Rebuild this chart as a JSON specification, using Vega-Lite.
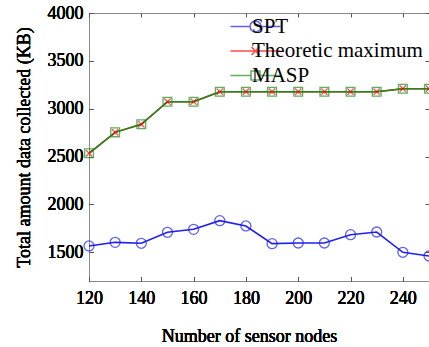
{
  "$schema": "https://vega.github.io/schema/vega-lite/v6.json",
  "width": 340,
  "height": 268,
  "autosize": "none",
  "padding": {"left": 89, "top": 13, "right": 0, "bottom": 66},
  "config": {
    "font": "Liberation Serif",
    "view": {"stroke": "#8a8a8a", "strokeWidth": 1},
    "axis": {
      "grid": false,
      "domain": false,
      "labelFont": "Liberation Serif",
      "labelFontSize": 18,
      "labelColor": "#000000",
      "labelFlush": false,
      "format": "d",
      "titleFont": "Liberation Serif",
      "titleFontSize": 18,
      "titleFontWeight": "normal",
      "titleColor": "#000000",
      "tickColor": "#555555",
      "tickSize": -4,
      "tickWidth": 1
    },
    "legend": {
      "labelFont": "Liberation Serif",
      "labelFontSize": 21,
      "labelColor": "#000000",
      "labelLimit": 400
    }
  },
  "data": {
    "values": [
      {"n": 120, "series": "SPT", "value": 1566},
      {"n": 130, "series": "SPT", "value": 1604},
      {"n": 140, "series": "SPT", "value": 1594},
      {"n": 150, "series": "SPT", "value": 1709},
      {"n": 160, "series": "SPT", "value": 1740},
      {"n": 170, "series": "SPT", "value": 1830},
      {"n": 180, "series": "SPT", "value": 1775},
      {"n": 190, "series": "SPT", "value": 1590},
      {"n": 200, "series": "SPT", "value": 1597},
      {"n": 210, "series": "SPT", "value": 1597},
      {"n": 220, "series": "SPT", "value": 1684},
      {"n": 230, "series": "SPT", "value": 1712},
      {"n": 240, "series": "SPT", "value": 1500},
      {"n": 250, "series": "SPT", "value": 1461},
      {"n": 120, "series": "Theoretic maximum", "value": 2534},
      {"n": 130, "series": "Theoretic maximum", "value": 2753},
      {"n": 140, "series": "Theoretic maximum", "value": 2837},
      {"n": 150, "series": "Theoretic maximum", "value": 3073},
      {"n": 160, "series": "Theoretic maximum", "value": 3073},
      {"n": 170, "series": "Theoretic maximum", "value": 3178},
      {"n": 180, "series": "Theoretic maximum", "value": 3178},
      {"n": 190, "series": "Theoretic maximum", "value": 3178},
      {"n": 200, "series": "Theoretic maximum", "value": 3178},
      {"n": 210, "series": "Theoretic maximum", "value": 3178},
      {"n": 220, "series": "Theoretic maximum", "value": 3178},
      {"n": 230, "series": "Theoretic maximum", "value": 3178},
      {"n": 240, "series": "Theoretic maximum", "value": 3209},
      {"n": 250, "series": "Theoretic maximum", "value": 3209},
      {"n": 120, "series": "MASP", "value": 2534},
      {"n": 130, "series": "MASP", "value": 2753},
      {"n": 140, "series": "MASP", "value": 2837},
      {"n": 150, "series": "MASP", "value": 3073},
      {"n": 160, "series": "MASP", "value": 3073},
      {"n": 170, "series": "MASP", "value": 3178},
      {"n": 180, "series": "MASP", "value": 3178},
      {"n": 190, "series": "MASP", "value": 3178},
      {"n": 200, "series": "MASP", "value": 3178},
      {"n": 210, "series": "MASP", "value": 3178},
      {"n": 220, "series": "MASP", "value": 3178},
      {"n": 230, "series": "MASP", "value": 3178},
      {"n": 240, "series": "MASP", "value": 3209},
      {"n": 250, "series": "MASP", "value": 3209}
    ]
  },
  "encoding": {
    "x": {
      "field": "n",
      "type": "quantitative",
      "scale": {"domain": [120, 250], "nice": false, "zero": false},
      "axis": {
        "orient": "bottom",
        "values": [120, 140, 160, 180, 200, 220, 240],
        "title": "Number of sensor nodes",
        "labelPadding": 12,
        "titlePadding": 20,
        "titleX": 160
      }
    },
    "y": {
      "field": "value",
      "type": "quantitative",
      "scale": {"domain": [1200, 4000], "nice": false, "zero": false},
      "axis": {
        "orient": "left",
        "values": [1500, 2000, 2500, 3000, 3500, 4000],
        "title": "Total amount data collected (KB)",
        "labelPadding": 10,
        "titlePadding": 14
      }
    }
  },
  "layer": [
    {
      "mark": {"type": "line", "strokeWidth": 1.6},
      "encoding": {
        "color": {
          "field": "series",
          "type": "nominal",
          "scale": {
            "domain": ["SPT", "Theoretic maximum", "MASP"],
            "range": ["#1f1ff0", "#ff0000", "#1e8c1e"]
          },
          "legend": {
            "title": null,
            "orient": "none",
            "legendX": 156,
            "legendY": 3,
            "padding": 0,
            "symbolSize": 100,
            "symbolStrokeWidth": 1.6,
            "labelOffset": -14,
            "rowPadding": 2.5
          }
        }
      }
    },
    {
      "transform": [{"filter": "datum.series === 'SPT'"}],
      "mark": {"type": "point", "shape": "circle", "filled": false, "size": 100, "stroke": "#1f1ff0", "strokeWidth": 1.3}
    },
    {
      "transform": [{"filter": "datum.series === 'Theoretic maximum'"}],
      "mark": {"type": "point", "shape": "M-0.65,-0.65L0.65,0.65M-0.65,0.65L0.65,-0.65", "filled": false, "size": 95, "stroke": "#ff0000", "strokeWidth": 1.3}
    },
    {
      "transform": [{"filter": "datum.series === 'MASP'"}],
      "mark": {"type": "point", "shape": "M-0.9,-0.9H0.9V0.9H-0.9Z", "filled": false, "size": 95, "stroke": "#1e8c1e", "strokeWidth": 1.3}
    },
    {
      "transform": [{"filter": "datum.n < 0"}],
      "mark": {"type": "point", "filled": false, "size": 100, "strokeWidth": 1.6},
      "encoding": {
        "color": {"field": "series", "type": "nominal"},
        "shape": {
          "field": "series",
          "type": "nominal",
          "scale": {
            "domain": ["SPT", "Theoretic maximum", "MASP"],
            "range": [
              "M-5,0H-1.1M1.1,0L0.953,0.55L0.55,0.953L0,1.1L-0.55,0.953L-0.953,0.55L-1.1,0L-0.953,-0.55L-0.55,-0.953L0,-1.1L0.55,-0.953L0.953,-0.55ZM1.1,0H5",
              "M-5,0H5M-0.8,-0.8L0.8,0.8M-0.8,0.8L0.8,-0.8",
              "M-5,0H-0.9M0.9,0H5M-0.9,-0.9H0.9V0.9H-0.9Z"
            ]
          },
          "legend": null
        }
      }
    },
    {
      "mark": {"type": "point", "filled": false, "size": 10, "opacity": 0},
      "encoding": {
        "x": {
          "field": "n",
          "type": "quantitative",
          "axis": {
            "orient": "top",
            "values": [120, 140, 160, 180, 200, 220, 240],
            "labels": false,
            "title": null
          }
        },
        "y": {
          "field": "value",
          "type": "quantitative",
          "axis": {
            "orient": "right",
            "values": [1500, 2000, 2500, 3000, 3500, 4000],
            "labels": false,
            "title": null
          }
        }
      }
    }
  ],
  "resolve": {"axis": {"x": "independent", "y": "independent"}}
}
